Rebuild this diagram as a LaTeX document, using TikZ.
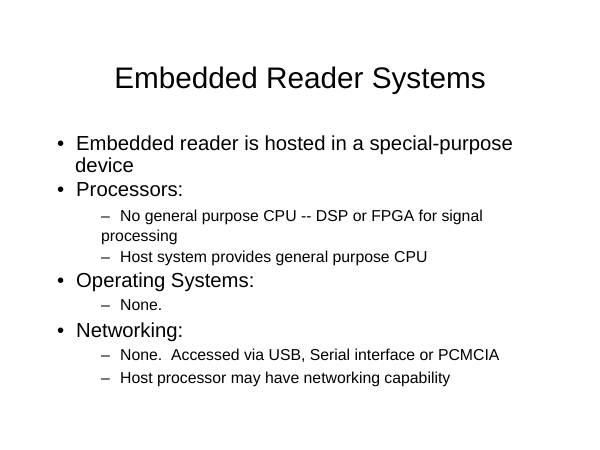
\documentclass[tikz,border=0pt]{standalone}
\usepackage{fontspec}
\setmainfont{Liberation Sans}
\usetikzlibrary{positioning}

\begin{document}
\begin{tikzpicture}[x=1pt,y=-1pt,
toptxt/.style={
  anchor=base west,
  inner sep=0pt,
  font=\fontsize{20.3}{24}\selectfont},
subtxt/.style={
  anchor=base west,
  inner sep=0pt,
  font=\fontsize{15.8}{20}\selectfont}
]
\useasboundingbox (0,0) rectangle (600,450);
\node [anchor=base, inner sep=0pt, font=\fontsize{29.7}{34}\selectfont] (title) at (300,88) {Embedded Reader Systems};
% bullets and dashes
\foreach \Y/\Nodo in {150/bA,196/bB,287/bC,337/bD}
  \node [toptxt] (\Nodo) at (57,\Y) {\textbullet};
\foreach \Y/\Nodo in {221/dA,262/dB,310/dC,360/dD,383/dE}
  \node [subtxt] (\Nodo) at (101,\Y) {--};
% level one
\node [toptxt] (emb) at (76,150) {Embedded reader is hosted in a special-purpose};
\node [toptxt] (dev) at (75,172) {device};
\node [toptxt] (proc) at (76,196) {Processors:};
\node [toptxt] (os) at (76,287) {Operating Systems:};
\node [toptxt] (net) at (76,337) {Networking:};
% level two
\node [subtxt] (cpu) at (120,221) {No general purpose CPU {-}{-} DSP or FPGA for signal};
\node [subtxt] (sig) at (101,241) {processing};
\node [subtxt] (host) at (120,262) {Host system provides general purpose CPU};
\node [subtxt] (none) at (120,310) {None.};
\node [subtxt] (usb) at (120,360) {None.\ \ Accessed via USB, Serial interface or PCMCIA};
\node [subtxt] (hnet) at (120,383) {Host processor may have networking capability};
\end{tikzpicture}
\end{document}
